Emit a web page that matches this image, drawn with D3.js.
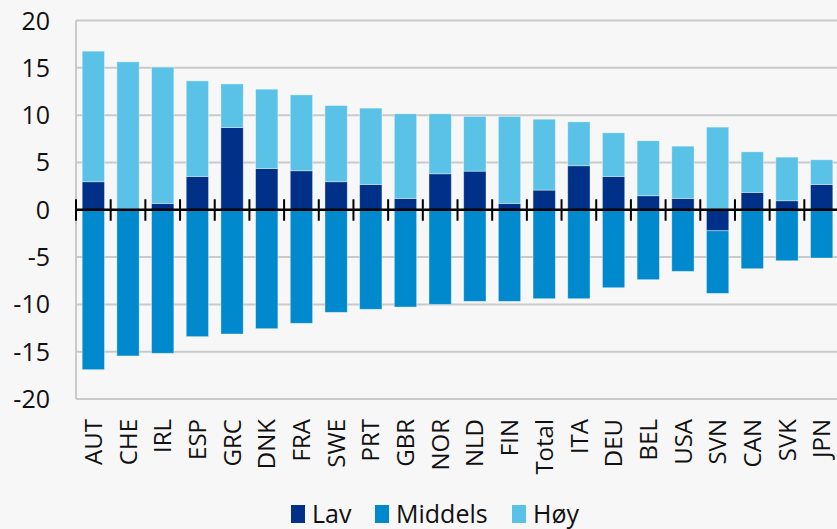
<!DOCTYPE html>
<html>
<head>
<meta charset="utf-8">
<script src="https://cdn.jsdelivr.net/npm/d3@7"></script>
<style>
  body { margin: 0; background: #f7f7f7; }
  svg { display: block; font-family: "Open Sans", "Noto Sans", sans-serif; }
</style>
</head>
<body>
<div id="chart"></div>
<script>
// categories and series
var countries = ["AUT","CHE","IRL","ESP","GRC","DNK","FRA","SWE","PRT","GBR","NOR","NLD","FIN","Total","ITA","DEU","BEL","USA","SVN","CAN","SVK","JPN"];
var lav     = [2.96, 0, 0.67, 3.52, 8.69, 4.36, 4.12, 2.96, 2.67, 1.19, 3.80, 4.08, 0.67, 2.08, 4.65, 3.52, 1.48, 1.19, -2.22, 1.83, 0.95, 2.67];
var middels = [-16.9, -15.45, -15.17, -13.41, -13.13, -12.57, -12.0, -10.84, -10.52, -10.28, -10.0, -9.68, -9.68, -9.4, -9.4, -8.24, -7.39, -6.51, -6.62, -6.23, -5.39, -5.1];
var hoy     = [13.8, 15.63, 14.4, 10.1, 4.61, 8.38, 8.02, 8.05, 8.07, 8.95, 6.34, 5.78, 9.19, 7.49, 4.64, 4.61, 5.81, 5.53, 8.73, 4.29, 4.61, 2.61];
var yTicks  = [20, 15, 10, 5, 0, -5, -10, -15, -20];

var seriesNames = ["Lav", "Middels", "Høy"];
var colors = ["#003087", "#008acd", "#5bc2e7"];

var width = 837, height = 529;
var plot = {left: 76, right: 839, top: 20.5, bottom: 399};

var rows = countries.map(function(c, i) {
  return {country: c, "Lav": lav[i], "Middels": middels[i], "Høy": hoy[i]};
});

var svg = d3.select("#chart").append("svg")
  .attr("width", width)
  .attr("height", height);

var x = d3.scaleBand()
  .domain(countries)
  .range([plot.left, plot.right])
  .paddingInner(0.357)
  .paddingOuter(0.1785);

var y = d3.scaleLinear()
  .domain([-20, 20])
  .range([plot.bottom, plot.top]);

// gridlines
svg.append("g")
  .selectAll("line")
  .data(yTicks.filter(function(t) { return t !== 0; }))
  .enter().append("line")
    .attr("x1", plot.left).attr("x2", plot.right)
    .attr("y1", function(d) { return y(d); })
    .attr("y2", function(d) { return y(d); })
    .attr("stroke", "#cacaca")
    .attr("stroke-width", 2);

// left axis line
svg.append("line")
  .attr("x1", plot.left).attr("x2", plot.left)
  .attr("y1", y(20)).attr("y2", y(-20))
  .attr("stroke", "#cacaca")
  .attr("stroke-width", 2);

// y labels
svg.append("g")
  .selectAll("text")
  .data(yTicks)
  .enter().append("text")
    .attr("x", 50)
    .attr("y", function(d) { return y(d); })
    .attr("dy", "0.36em")
    .attr("text-anchor", "end")
    .style("font-size", "25px")
    .style("fill", "#111")
    .text(function(d) { return d; });

// stacked bars
var stack = d3.stack()
  .keys(seriesNames)
  .offset(d3.stackOffsetDiverging);
var layers = stack(rows);

svg.append("g")
  .selectAll("g")
  .data(layers)
  .enter().append("g")
    .attr("fill", function(d, i) { return colors[i]; })
  .selectAll("rect")
  .data(function(d) { return d; })
  .enter().append("rect")
    .attr("x", function(d) { return x(d.data.country); })
    .attr("width", x.bandwidth())
    .attr("y", function(d) { return y(Math.max(d[0], d[1])); })
    .attr("height", function(d) { return Math.abs(y(d[0]) - y(d[1])); })
    .attr("stroke", "rgba(255,255,255,0.45)")
    .attr("stroke-width", 0.8);

// zero axis with ticks between categories
var step = x.step();
var boundaries = d3.range(countries.length + 1).map(function(k) { return plot.left + k * step; });
svg.append("line")
  .attr("x1", plot.left).attr("x2", plot.right)
  .attr("y1", y(0)).attr("y2", y(0))
  .attr("stroke", "#000")
  .attr("stroke-width", 2.5);
svg.append("g")
  .selectAll("line")
  .data(boundaries)
  .enter().append("line")
    .attr("x1", function(d) { return d; })
    .attr("x2", function(d) { return d; })
    .attr("y1", y(0) - 10.5)
    .attr("y2", y(0) + 11)
    .attr("stroke", "#000")
    .attr("stroke-width", 2);

// category labels
svg.append("g")
  .selectAll("text")
  .data(countries)
  .enter().append("text")
    .attr("transform", function(d) {
      return "translate(" + (x(d) + x.bandwidth() / 2) + ",419) rotate(-90)";
    })
    .attr("dy", "0.36em")
    .attr("text-anchor", "end")
    .style("font-size", "24px")
    .style("fill", "#111")
    .text(function(d) { return d; });

// legend
var legendX = [291, 375, 512];
var legend = svg.append("g");
seriesNames.forEach(function(name, i) {
  legend.append("rect")
    .attr("x", legendX[i]).attr("y", 505)
    .attr("width", 14).attr("height", 18)
    .attr("fill", colors[i]);
  legend.append("text")
    .attr("x", legendX[i] + 21).attr("y", 523)
    .style("font-size", "25px")
    .style("fill", "#111")
    .text(name);
});
</script>
</body>
</html>
